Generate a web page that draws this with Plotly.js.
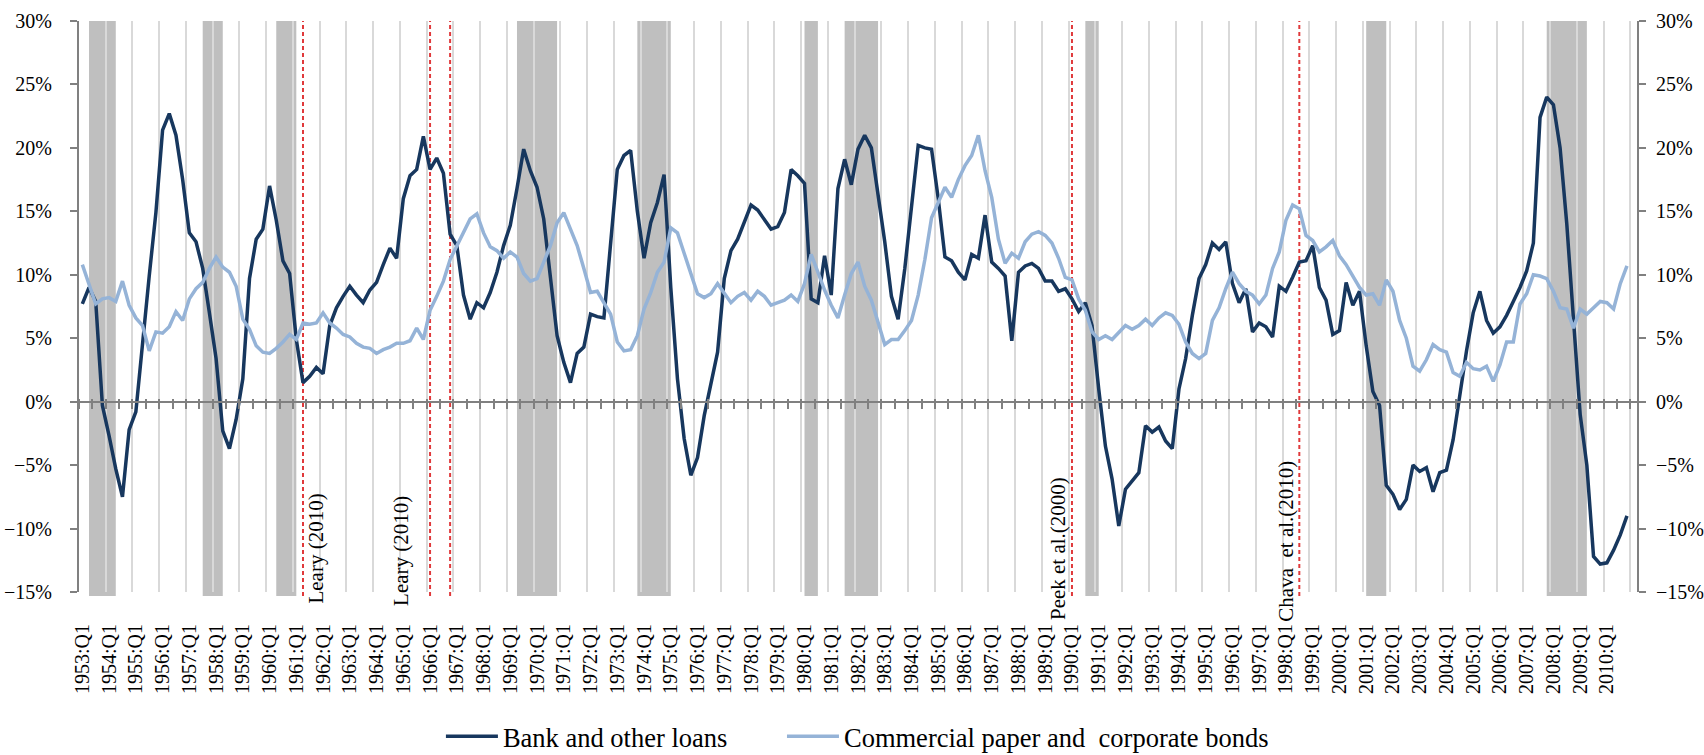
<!DOCTYPE html>
<html>
<head>
<meta charset="utf-8">
<script src="https://cdn.plot.ly/plotly-3.0.1.min.js"></script>
<style>
  html, body { margin: 0; padding: 0; background: #ffffff; }
  #chart { width: 1704px; height: 755px; }
</style>
</head>
<body>
<div id="chart"></div>
<script>
// ---------- DATA ----------
const FIRST_YEAR = 1953;
const LAST_YEAR = 2010;
const quarters = [];
for (let y = FIRST_YEAR; y <= LAST_YEAR; y++) {
  for (let q = 1; q <= 4; q++) quarters.push(y + ':Q' + q);
}
const tickLabels = quarters.filter(function (s) { return s.slice(-2) === 'Q1'; });

// Growth rates (%), quarterly, 1953:Q1 - 2010:Q4
const bankLoans = [
  7.7, 9.0, 7.9, -0.3, -2.7, -5.3, -7.5, -2.2,
  -0.8, 4.9, 9.9, 14.9, 21.4, 22.7, 21.0, 17.5,
  13.3, 12.6, 10.5, 7.0, 3.4, -2.3, -3.7, -1.4,
  1.8, 9.7, 12.8, 13.6, 17.0, 14.3, 11.1, 10.1,
  4.9, 1.5, 2.0, 2.7, 2.2, 6.0, 7.4, 8.3,
  9.1, 8.4, 7.8, 8.8, 9.4, 10.8, 12.1, 11.3,
  16.0, 17.8, 18.3, 20.9, 18.3, 19.2, 18.0, 13.2,
  12.3, 8.4, 6.5, 7.8, 7.4, 8.6, 10.2, 12.3,
  13.9, 16.8, 19.9, 18.2, 16.9, 14.4, 9.9, 5.2,
  3.1, 1.5, 3.8, 4.3, 6.9, 6.7, 6.6, 12.5,
  18.3, 19.4, 19.8, 15.0, 11.3, 14.1, 15.7, 17.9,
  9.0, 1.8, -2.9, -5.8, -4.4, -1.1, 1.3, 3.9,
  9.7, 11.9, 12.8, 14.1, 15.5, 15.1, 14.3, 13.6,
  13.8, 14.9, 18.3, 17.8, 17.2, 8.1, 7.8, 11.5,
  8.4, 16.8, 19.1, 17.1, 19.9, 21.0, 20.0, 16.5,
  12.6, 8.3, 6.5, 10.5, 15.2, 20.2, 20.0, 19.9,
  16.0, 11.4, 11.1, 10.2, 9.6, 11.6, 11.3, 14.7,
  11.0, 10.5, 9.9, 4.8, 10.2, 10.7, 10.9, 10.5,
  9.5, 9.5, 8.7, 8.9, 8.1, 7.1, 7.8, 6.0,
  1.0, -3.5, -6.1, -9.8, -6.9, -6.2, -5.6, -1.9,
  -2.4, -2.0, -3.1, -3.7, 1.0, 3.4, 6.8, 9.7,
  10.8, 12.5, 12.0, 12.6, 9.3, 7.8, 8.9, 5.5,
  6.2, 5.9, 5.1, 9.1, 8.7, 9.8, 11.0, 11.1,
  12.3, 9.0, 8.0, 5.3, 5.6, 9.4, 7.6, 8.7,
  4.4, 0.8, -0.3, -6.6, -7.3, -8.5, -7.7, -5.0,
  -5.5, -5.2, -7.1, -5.6, -5.4, -3.0, 0.7, 4.0,
  7.0, 8.7, 6.4, 5.4, 5.9, 6.8, 7.9, 9.0,
  10.3, 12.5, 22.4, 24.0, 23.4, 20.0, 14.0, 6.5,
  -1.0, -5.0, -12.2, -12.8, -12.7, -11.7, -10.5, -9.0
];

const cpBonds = [
  10.8, 9.3, 7.7, 8.1, 8.2, 7.9, 9.5, 7.6,
  6.6, 6.0, 4.0, 5.5, 5.4, 5.9, 7.1, 6.4,
  8.1, 8.9, 9.4, 10.5, 11.4, 10.6, 10.2, 9.1,
  6.5, 5.7, 4.4, 3.9, 3.8, 4.2, 4.7, 5.3,
  4.9, 6.2, 6.1, 6.2, 7.0, 6.2, 5.8, 5.3,
  5.1, 4.6, 4.3, 4.2, 3.8, 4.1, 4.3, 4.6,
  4.6, 4.8, 5.8, 4.9, 7.2, 8.3, 9.5, 11.2,
  12.3, 13.3, 14.4, 14.8, 13.3, 12.2, 11.9, 11.3,
  11.8, 11.4, 10.1, 9.5, 9.7, 11.0, 12.3, 14.1,
  14.9, 13.6, 12.3, 10.5, 8.6, 8.7, 7.8, 6.9,
  4.7, 4.0, 4.1, 5.2, 7.3, 8.6, 10.2, 11.0,
  13.7, 13.3, 11.7, 10.2, 8.5, 8.2, 8.5, 9.3,
  8.5, 7.8, 8.3, 8.6, 8.0, 8.7, 8.3, 7.6,
  7.8, 8.0, 8.4, 7.9, 9.3, 11.6, 10.2, 8.8,
  7.6, 6.6, 8.4, 10.1, 11.0, 9.1, 8.0, 6.2,
  4.5, 4.9, 4.9, 5.6, 6.4, 8.4, 11.2, 14.5,
  15.7, 16.9, 16.1, 17.5, 18.6, 19.4, 21.0, 18.2,
  16.1, 12.8, 10.9, 11.7, 11.3, 12.6, 13.2, 13.4,
  13.1, 12.5, 11.3, 9.8, 9.6, 8.1, 7.2, 5.5,
  4.9, 5.2, 4.9, 5.5, 6.0, 5.7, 6.0, 6.5,
  6.0, 6.6, 7.0, 6.8, 6.1, 4.7, 3.8, 3.4,
  3.8, 6.4, 7.4, 8.9, 10.2, 9.3, 8.7, 8.4,
  7.7, 8.4, 10.5, 11.8, 14.3, 15.5, 15.2, 13.1,
  12.7, 11.8, 12.2, 12.7, 11.5, 10.8, 9.9, 9.0,
  8.4, 8.5, 7.6, 9.6, 8.7, 6.4, 5.0, 2.8,
  2.4, 3.3, 4.5, 4.1, 3.9, 2.3, 2.0, 3.1,
  2.6, 2.5, 2.8, 1.6, 2.9, 4.7, 4.7, 7.7,
  8.5, 10.0, 9.9, 9.7, 8.7, 7.4, 7.3, 5.8,
  7.3, 6.9, 7.4, 7.9, 7.8, 7.3, 9.3, 10.7
];

// Recessions (peak quarter -> trough quarter)
const recessionStart = ['1953:Q2', '1957:Q3', '1960:Q2', '1969:Q2', '1973:Q4', '1980:Q1', '1981:Q3', '1990:Q3', '2001:Q1', '2007:Q4'];
const recessionEnd   = ['1954:Q2', '1958:Q2', '1961:Q1', '1970:Q4', '1975:Q1', '1980:Q3', '1982:Q4', '1991:Q1', '2001:Q4', '2009:Q2'];

// Credit-crunch episodes from the literature
const eventQuarters = ['1961:Q2', '1966:Q1', '1966:Q4', '1990:Q1', '1998:Q3'];
const eventLabels   = ['Leary (2010)', 'Leary (2010)', '', 'Peek et al.(2000)', 'Chava\u00a0 et al.(2010)'];

// ---------- STYLE ----------
const FONT = 'Liberation Serif, Times New Roman, serif';
const NAVY = '#17375E';
const LIGHT = '#95B3D7';
const AXIS_GREY = '#808080';
const Y_ZERO_FRAC = 15 / 45;
const BAND_BOTTOM = -0.007;

// annotation placement (anchor side, px shift, bottom in paper units)
const eventStyle = [
  { xanchor: 'left',  xshift: 0,   y: -0.022 },
  { xanchor: 'right', xshift: -16, y: -0.026 },
  null,
  { xanchor: 'right', xshift: -1,  y: -0.050 },
  { xanchor: 'right', xshift: 0,   y: -0.054 }
];

const traces = [
  { type: 'scatter', mode: 'lines', name: 'Bank and other loans',
    x: quarters, y: bankLoans, xaxis: 'x2', yaxis: 'y', legend: 'legend',
    line: { color: NAVY, width: 3.5 } },
  { type: 'scatter', mode: 'lines', name: 'Commercial paper and \u00a0corporate bonds',
    x: quarters, y: cpBonds, xaxis: 'x2', yaxis: 'y', legend: 'legend2',
    line: { color: LIGHT, width: 3.5 } },
  // helper traces so that the auxiliary axes get drawn
  { type: 'scatter', mode: 'lines', x: [0], y: [null], xaxis: 'x', yaxis: 'y', showlegend: false, hoverinfo: 'skip' },
  { type: 'scatter', mode: 'lines', x: [0], y: [null], xaxis: 'x3', yaxis: 'y', showlegend: false, hoverinfo: 'skip' },
  { type: 'scatter', mode: 'lines', x: [0], y: [null], xaxis: 'x4', yaxis: 'y', showlegend: false, hoverinfo: 'skip' },
  { type: 'scatter', mode: 'lines', x: [0], y: [null], xaxis: 'x', yaxis: 'y2', showlegend: false, hoverinfo: 'skip' }
];

const N = quarters.length;
const xRange = [-0.5, N + 0.5];

const shapes = [];
recessionStart.forEach(function (s, k) {
  shapes.push({
    type: 'rect', layer: 'between', xref: 'x', yref: 'paper',
    x0: quarters.indexOf(s), x1: quarters.indexOf(recessionEnd[k]),
    y0: BAND_BOTTOM, y1: 1,
    fillcolor: '#BFBFBF', line: { width: 0 }
  });
});
eventQuarters.forEach(function (q) {
  const xi = quarters.indexOf(q);
  shapes.push({
    type: 'line', layer: 'between', xref: 'x', yref: 'paper',
    x0: xi, x1: xi, y0: BAND_BOTTOM, y1: 1,
    line: { color: '#E0393B', width: 2, dash: '4px,3px' }
  });
});

const annotations = [];
eventQuarters.forEach(function (q, k) {
  if (!eventLabels[k]) return;
  const st = eventStyle[k];
  annotations.push({
    xref: 'x', yref: 'paper', x: quarters.indexOf(q), y: st.y,
    xanchor: st.xanchor, yanchor: 'bottom', xshift: st.xshift,
    text: eventLabels[k], textangle: -90, showarrow: false,
    font: { family: FONT, size: 21, color: '#000000' }, borderpad: 0
  });
});

const tickFont = { family: FONT, size: 20, color: '#000000' };

const yCommon = {
  range: [-15, 30], dtick: 5, tick0: 0, ticksuffix: '%',
  ticks: 'outside', ticklen: 7, tickwidth: 2, tickcolor: AXIS_GREY,
  showline: true, linecolor: AXIS_GREY, linewidth: 2,
  showgrid: false, zeroline: false, tickfont: tickFont,
  fixedrange: true
};

const legendCommon = {
  orientation: 'h', xref: 'paper', xanchor: 'left',
  yref: 'container', y: 0.0245, yanchor: 'middle',
  font: { family: FONT, size: 26.5, color: '#000000' },
  itemwidth: 52, bgcolor: 'rgba(0,0,0,0)', borderwidth: 0
};

const layout = {
  width: 1704, height: 755,
  margin: { l: 79, r: 67, t: 21, b: 163, pad: 0 },
  paper_bgcolor: '#ffffff', plot_bgcolor: '#ffffff',
  font: { family: FONT, size: 20, color: '#000000' },
  showlegend: true,
  legend: Object.assign({ x: 0.2323 }, legendCommon),
  legend2: Object.assign({ x: 0.4512 }, legendCommon),
  xaxis: {
    type: 'linear', range: xRange, anchor: 'y',
    tickmode: 'linear', tick0: -0.5, dtick: 4,
    showgrid: true, gridcolor: '#D9D9D9', gridwidth: 2,
    showticklabels: false, ticks: '', showline: false, zeroline: false, fixedrange: true
  },
  xaxis2: {
    overlaying: 'x', anchor: 'y', side: 'bottom',
    type: 'category', categoryorder: 'array', categoryarray: quarters,
    range: xRange, tickmode: 'array', tickvals: tickLabels, ticktext: tickLabels,
    tickangle: -90, ticks: '', showline: false, showgrid: false, zeroline: false,
    tickfont: tickFont, ticklabelstandoff: 27, fixedrange: true
  },
  xaxis3: {
    overlaying: 'x', anchor: 'free', position: Y_ZERO_FRAC, side: 'bottom',
    type: 'linear', range: xRange, tickmode: 'linear', tick0: -0.5, dtick: 2,
    ticks: 'outside', ticklen: 6, tickwidth: 2, tickcolor: AXIS_GREY,
    showline: true, linecolor: AXIS_GREY, linewidth: 2,
    showticklabels: false, showgrid: false, zeroline: false, fixedrange: true
  },
  xaxis4: {
    overlaying: 'x', anchor: 'free', position: Y_ZERO_FRAC, side: 'top',
    type: 'linear', range: xRange, tickmode: 'linear', tick0: -0.5, dtick: 2,
    ticks: 'outside', ticklen: 3, tickwidth: 2, tickcolor: AXIS_GREY,
    showline: false, showticklabels: false, showgrid: false, zeroline: false, fixedrange: true
  },
  yaxis: Object.assign({ side: 'left', anchor: 'x', domain: [0, 1], ticklabelstandoff: 14 }, yCommon),
  yaxis2: Object.assign({ side: 'right', overlaying: 'y', anchor: 'x', ticklabelstandoff: 6 }, yCommon),
  shapes: shapes,
  annotations: annotations
};

Plotly.newPlot('chart', traces, layout, { staticPlot: true, displayModeBar: false });
</script>
</body>
</html>
